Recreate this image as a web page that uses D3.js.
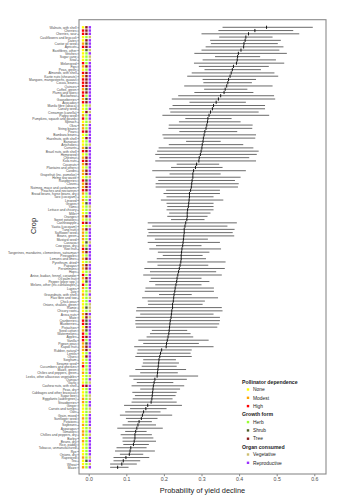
<!DOCTYPE html>
<html><head><meta charset="utf-8">
<script src="https://cdn.jsdelivr.net/npm/d3@7/dist/d3.min.js"></script>
<style>body{margin:0;background:#fff}svg{display:block;font-family:"Liberation Sans",Arial,sans-serif}</style>
</head><body><svg id="c" width="354" height="500"></svg>
<script>
const crops=["Walnuts, with shell","Cherries","Cherries, sour","Cauliflowers and broccoli","Dates","Castor oil seed","Apricots","Bastfibres, other","Vetches","Sugar cane","Sisal","Melonseed","Figs","Peas, green","Almonds, with shell","Karite nuts (sheanuts)","Mangoes, mangosteens, guavas","Cocoa, beans","Quinces","Coffee, green","Plums and sloes","Buckwheat","Gooseberries","Avocados","Manila fibre (abaca)","Canary seed","Cinnamon (canella)","Poppy seed","Pumpkins, squash and gourds","Spinach","Okra","String beans","Pears","Bambara beans","Hazelnuts, with shell","Bananas","Artichokes","Currants","Brazil nuts, with shell","Hempseed","Chestnut","Kola nuts","Coconuts","Plantains and others","Carobs","Grapefruit (inc. pomelos)","Hemp tow waste","Raspberries","Cloves","Nutmeg, mace and cardamoms","Peaches and nectarines","Broad beans, horse beans, dry","Taro (cocoyam)","Linseed","Grapes","Yams","Lettuce and chicory","Millet","Oranges","Sweet potatoes","Cashewapple","Yautia (cocoyam)","Tung nuts","Safflower seed","Beans, green","Mustard seed","Cassava","Cow peas, dry","Kiwi fruit","Tangerines, mandarins, clementines, satsumas","Pineapples","Lemons and limes","Pyrethrum, dried","Papayas","Persimmons","Hops","Anise, badian, fennel, coriander","Oil palm fruit","Pepper (piper spp.)","Melons, other (inc.cantaloupes)","Lupins","Jute","Groundnuts, with shell","Flax fibre and tow","Chick peas","Onions, shallots, green","Ramie","Chicory roots","Areca nuts","Mate","Cranberries","Blueberries","Pistachios","Seed cotton","Watermelons","Apples","Vanilla","Pigeon peas","Kapok fruit","Rubber, natural","Lentils","Olives","Sorghum","Sesame seed","Cucumbers and gherkins","Maize, green","Chilies and peppers, green","Leeks, other alliaceous vegetables","Quinoa","Garlic","Cashew nuts, with shell","Peas, dry","Cabbages and other brassicas","Sugar beet","Eggplants (aubergines)","Strawberries","Ginger","Carrots and turnips","Oats","Grain, mixed","Sunflower seed","Potatoes","Soybeans","Asparagus","Tomatoes","Chillies and peppers, dry","Barley","Beans, dry","Rice, paddy","Tobacco, unmanufactured","Rye","Onions, dry","Rapeseed","Tea","Wheat","Maize"];
const estimate=[.473,.442,.425,.418,.416,.413,.412,.405,.398,.396,.395,.393,.385,.382,.379,.376,.372,.370,.367,.363,.360,.351,.345,.339,.332,.329,.324,.320,.317,.316,.314,.312,.309,.307,.305,.304,.302,.301,.299,.297,.294,.293,.287,.284,.279,.277,.277,.275,.274,.273,.271,.268,.268,.267,.266,.265,.263,.262,.262,.261,.258,.256,.254,.254,.253,.252,.251,.250,.248,.247,.246,.246,.245,.243,.241,.239,.237,.235,.234,.232,.230,.229,.227,.226,.225,.223,.223,.221,.220,.219,.217,.216,.215,.214,.213,.211,.209,.207,.206,.194,.191,.189,.187,.186,.185,.184,.183,.182,.176,.174,.172,.171,.170,.169,.168,.166,.157,.152,.146,.143,.140,.134,.131,.128,.125,.123,.123,.121,.119,.112,.110,.108,.099,.092,.088,.077];
const lower=[.356,.345,.300,.347,.323,.325,.311,.300,.281,.336,.303,.280,.293,.308,.274,.262,.303,.305,.254,.307,.281,.238,.221,.268,.223,.214,.217,.196,.257,.240,.213,.212,.241,.196,.199,.259,.213,.186,.182,.177,.188,.177,.234,.219,.169,.215,.178,.185,.178,.178,.206,.199,.207,.192,.207,.209,.207,.214,.209,.219,.157,.169,.156,.159,.155,.176,.157,.179,.161,.184,.197,.181,.156,.183,.148,.163,.145,.165,.161,.177,.151,.149,.187,.142,.157,.158,.128,.126,.137,.125,.124,.124,.126,.168,.163,.154,.132,.145,.121,.130,.128,.124,.145,.144,.141,.124,.137,.108,.119,.128,.114,.137,.116,.123,.117,.114,.094,.110,.097,.083,.099,.104,.090,.076,.097,.085,.090,.090,.092,.074,.070,.083,.066,.066,.057,.057];
const upper=[.596,.544,.560,.489,.511,.503,.518,.507,.527,.456,.498,.520,.479,.458,.494,.504,.445,.434,.489,.422,.438,.493,.496,.418,.469,.469,.452,.480,.380,.404,.436,.435,.395,.445,.443,.351,.411,.438,.452,.447,.427,.445,.347,.356,.418,.351,.404,.389,.399,.397,.349,.349,.332,.358,.332,.332,.332,.324,.316,.308,.394,.369,.388,.383,.387,.317,.349,.300,.352,.321,.303,.312,.364,.318,.362,.339,.354,.300,.321,.300,.333,.333,.274,.344,.309,.303,.354,.356,.332,.349,.349,.347,.342,.262,.271,.278,.319,.293,.332,.274,.271,.274,.232,.240,.234,.259,.237,.291,.261,.225,.254,.243,.234,.231,.223,.234,.248,.207,.191,.222,.183,.168,.179,.197,.154,.168,.172,.179,.160,.154,.176,.145,.161,.137,.128,.106];
// Pollinator dependence: N=None, M=Modest, H=High
const pollinator="NHHNNMHNNNNHMNHMHHHMHHMHNNNMHNMMHNNNNMHNMHMNMMNHMMHMNMNNNNMNHNMMMMNMHMNMNMMNHMNHMNMNNNNNMNHHNMHHHMMMNNNMHNMNNNHNNNMMNNNNMNMNMMNMNNNNMNNM";
// Growth form: H=Herb, S=Shrub, T=Tree
const growth="TTTHTSTSHHHHTHTTTTTSTHSTHHTHHHHHTHTHHSTHTTTHTTHSTTTHHHSHHHTHTHTHHHSHSTHTHTTHHTSHHHHHHHSHTTSSTSHTHSTTHTHHHHHHHHTHHHHHHHHHHHHHHHHHHHHHHSHHHSHH";
// Organ consumed: V=Vegetative, R=Reproductive
const organ="RRRVRRRVRVVRRRRRRRRRRRRRVRVRRVRRRRRRVRRRRRRRRRVRRRRRVRRVVRRVRVRRRRVRRRRRVRRVRRRRRVRVRVVVRVRRRRRRRRRVRRRRRRRVRVRRRVVRRVVRRRRVRVRRRRRRVRVRVRR";
const pollName={N:"None",M:"Modest",H:"High"}, growthName={H:"Herb",S:"Shrub",T:"Tree"}, organName={V:"Vegetative",R:"Reproductive"};
const xTicks=[0,0.1,0.2,0.3,0.4,0.5,0.6];

const pollCol={None:"#FFFF00",Modest:"#FFA500",High:"#FF0000"};
const growthCol={Herb:"#99FF33",Shrub:"#4F5F2A",Tree:"#8B1A1A"};
const organCol={Vegetative:"#CDBE70",Reproductive:"#9B30FF"};

const svg=d3.select("#c");
const P={l:79,r:326,t:19.7,b:474};
const x=d3.scaleLinear().domain([0,0.6]).range([88.7,314.3]);
const y=d3.scalePoint().domain(crops).range([27.3,467.3]);
const data=crops.map((c,i)=>({c,e:estimate[i],lo:lower[i],hi:upper[i],p:pollName[pollinator[i]],g:growthName[growth[i]],o:organName[organ[i]]}));

svg.append("rect").attr("x",P.l).attr("y",P.t).attr("width",P.r-P.l).attr("height",P.b-P.t).attr("fill","#fff");

svg.append("g").selectAll("line").data(data).join("line")
 .attr("x1",d=>x(d.lo)).attr("x2",d=>x(d.hi)).attr("y1",d=>y(d.c)).attr("y2",d=>y(d.c))
 .attr("stroke","#444").attr("stroke-width",0.8);
svg.append("g").selectAll("line").data(data).join("line")
 .attr("x1",d=>x(d.e)).attr("x2",d=>x(d.e)).attr("y1",d=>y(d.c)-1.6).attr("y2",d=>y(d.c)+1.6)
 .attr("stroke","#000").attr("stroke-width",0.9);

const sq=2.4;
const cols=[[-0.015,d=>pollCol[d.p]],[-0.006,d=>growthCol[d.g]],[0.003,d=>organCol[d.o]]];
cols.forEach(([xv,f])=>{
 svg.append("g").selectAll("rect").data(data).join("rect")
  .attr("x",x(xv)-sq/2).attr("y",d=>y(d.c)-sq/2).attr("width",sq).attr("height",sq).attr("fill",f);
});

// axes
const xa=svg.append("g").attr("transform",`translate(0,${P.b})`)
 .call(d3.axisBottom(x).tickValues(xTicks).tickFormat(d3.format(".1f")).tickSize(2.2).tickPadding(1.5));
xa.select(".domain").remove();
xa.selectAll("line").attr("stroke","#333").attr("stroke-width",0.6);
xa.selectAll("text").attr("fill","#4d4d4d").attr("font-size",5.2);

const ya=svg.append("g").attr("transform",`translate(${P.l},0)`)
 .call(d3.axisLeft(y).tickSize(1.6).tickPadding(0.8));
ya.select(".domain").remove();
ya.selectAll("line").attr("stroke","#333").attr("stroke-width",0.5);
ya.selectAll("text").attr("fill","#4d4d4d").attr("font-size",3.3);

svg.append("rect").attr("x",P.l).attr("y",P.t).attr("width",P.r-P.l).attr("height",P.b-P.t)
 .attr("fill","none").attr("stroke","#8a8a8a").attr("stroke-width",1.1);

svg.append("text").attr("x",(P.l+P.r)/2).attr("y",492.5).attr("text-anchor","middle")
 .attr("font-size",7.4).attr("fill","#222").text("Probability of yield decline");
svg.append("text").attr("transform","translate(35.5,226) rotate(-90)").attr("text-anchor","middle")
 .attr("font-size",7.4).attr("fill","#222").text("Crop");

// legend
const groups=[["Pollinator dependence",381.7,Object.keys(pollCol),pollCol],["Growth form",414.3,Object.keys(growthCol),growthCol],["Organ consumed",446.7,Object.keys(organCol),organCol]];
const lg=svg.append("g");
groups.forEach(([title,ty,keys,cm])=>{
 lg.append("text").attr("x",242).attr("y",ty+1.8).attr("font-size",5.2).attr("font-weight","bold").attr("fill","#222").text(title);
 keys.forEach((k,i)=>{
  const yy=ty+7.8+i*8.3;
  lg.append("rect").attr("x",248-1.2).attr("y",yy-1.2).attr("width",2.4).attr("height",2.4).attr("fill",cm[k]);
  lg.append("text").attr("x",253).attr("y",yy+1.7).attr("font-size",4.9).attr("fill","#222").text(k);
 });
});
</script></body></html>
